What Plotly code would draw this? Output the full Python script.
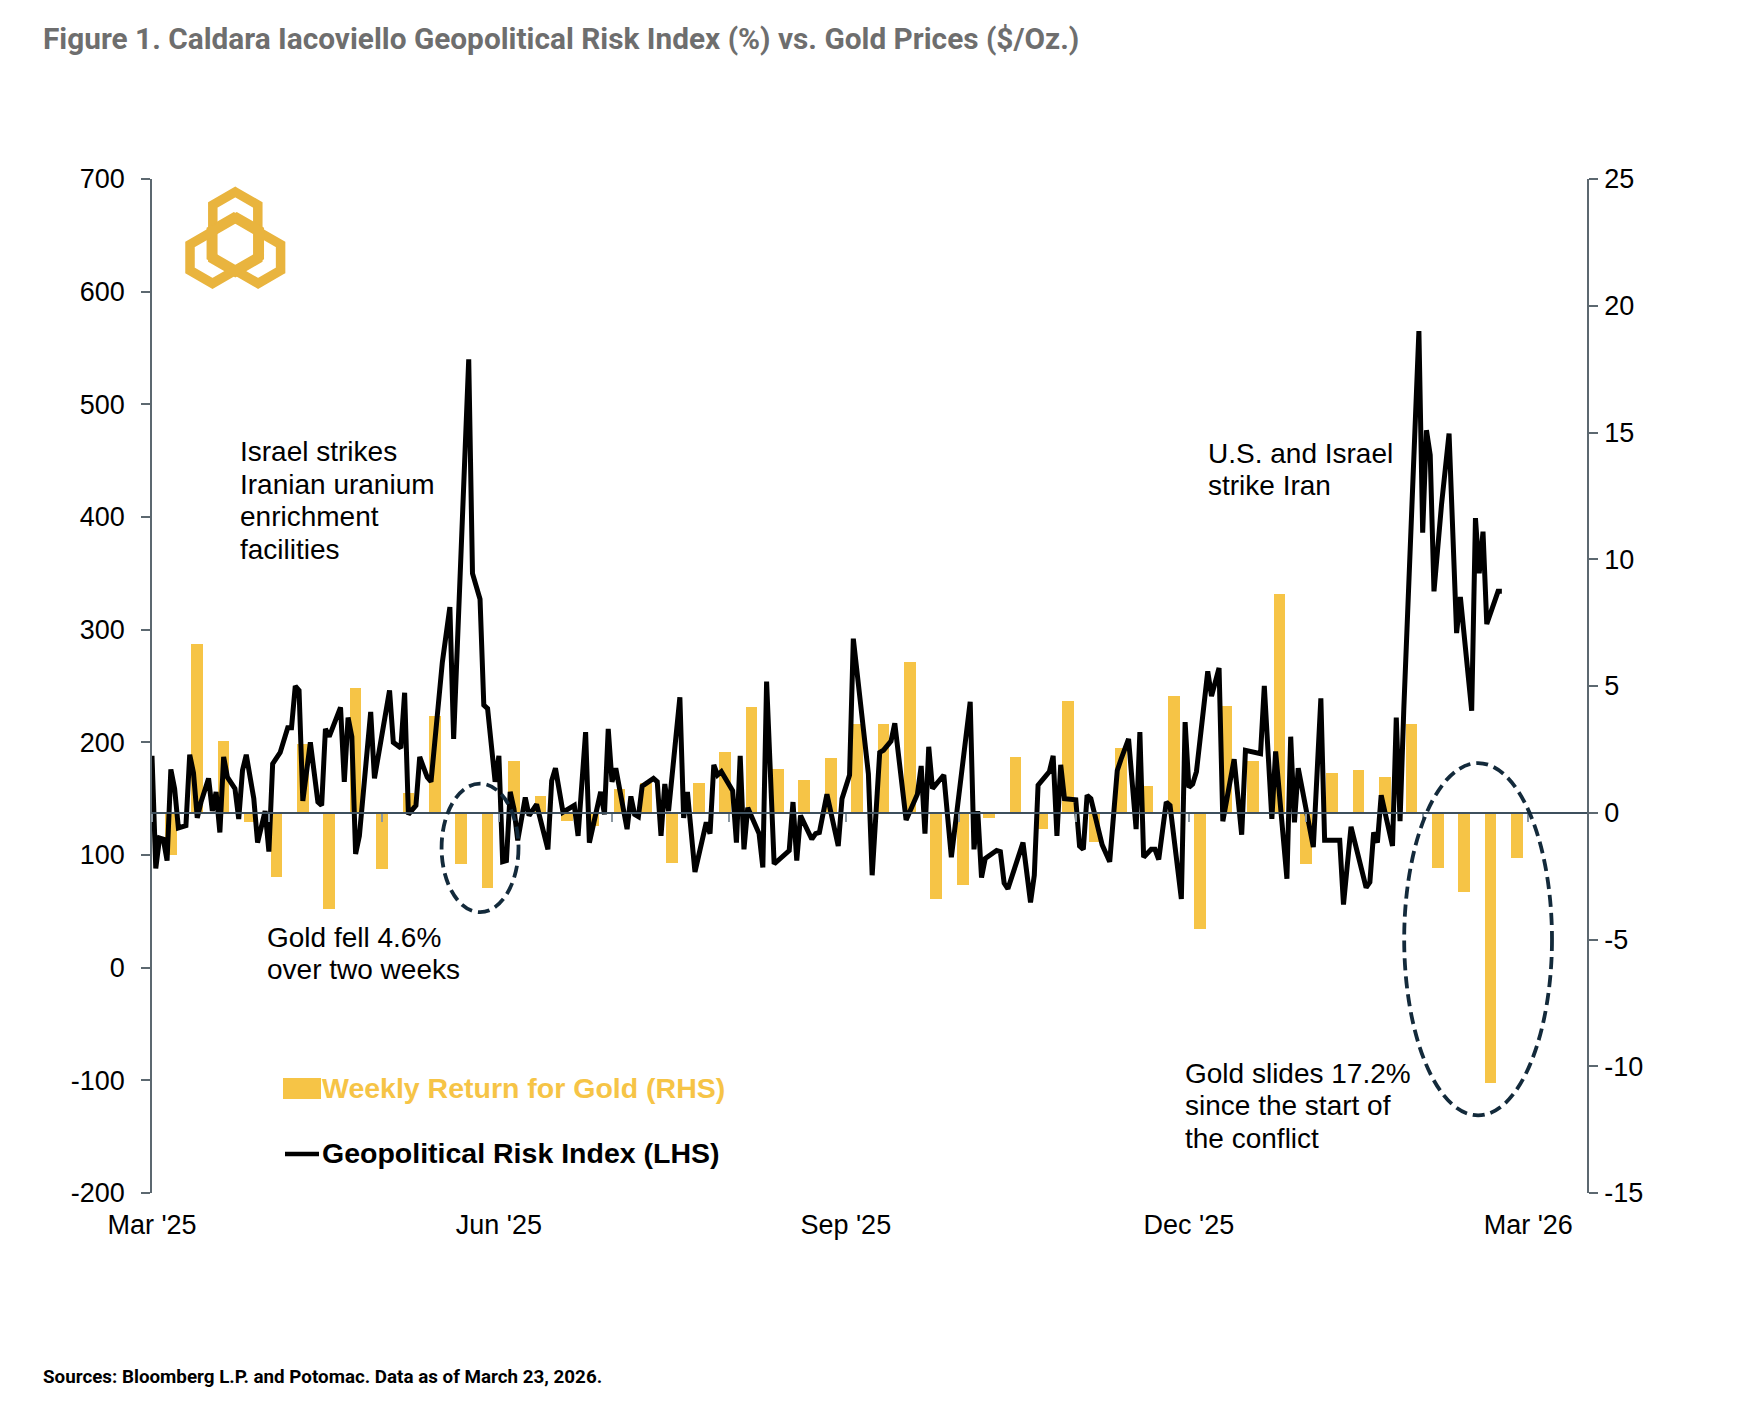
import math
import plotly.graph_objects as go
import pandas as pd

# ---------------- data ----------------
BASE = pd.Timestamp("2025-03-22")

# Caldara-Iacoviello daily geopolitical risk index (LHS), day offsets from BASE
gpr_day = [1, 2, 3, 4, 5, 6, 7, 8, 10, 11, 12, 13, 14, 16, 17, 18, 19, 20, 21, 23, 24, 25, 26, 28, 29,
           31, 32, 33, 35, 37, 38, 39, 40, 41, 43, 45, 46, 47, 48, 51, 52, 53, 54, 55, 56, 59, 60, 64, 65,
           67, 68, 69, 71, 72, 74, 75, 78, 80, 81, 85, 86, 88, 89, 90, 92, 93, 94, 95, 96, 97, 98, 100,
           101, 103, 106, 107, 108,
           110, 113, 114, 116, 117, 120, 121, 122, 123, 124, 127, 128, 129, 130, 131, 134, 135, 136, 137,
           138, 141, 142, 143, 145, 148, 149, 150, 151, 152, 155, 156, 157, 158, 159, 162, 163, 164, 166,
           169, 170, 171, 172, 173, 176, 177, 178, 180, 183, 184, 186, 187, 191, 192, 194, 195, 197, 198,
           201, 204, 205, 206, 207, 208, 211, 213,
           217, 218, 219, 220, 221, 222, 225, 226, 227, 228, 232, 234, 235, 236, 238, 239, 240, 241, 242,
           243, 246, 247, 248, 249, 250, 253, 255, 257, 258, 260, 262, 263, 264, 266, 267, 268, 270, 271,
           274, 275, 276, 277, 278, 281, 282, 284, 285, 288, 290, 291, 295, 296, 298, 299, 302, 303, 304,
           305, 309, 311, 312, 316, 317, 319, 323, 324, 325, 326, 327, 330, 331, 332, 333, 337, 338, 339,
           340, 341, 343, 345, 347, 348, 351, 352, 353, 354, 355, 358, 359]
gpr_value = [188, 88, 115, 114, 95, 176, 159, 124, 126, 189, 173, 133, 147, 168, 139, 156, 120, 187, 169,
             159, 132, 175, 189, 150, 111, 139, 103, 181, 191, 213, 213, 250, 246, 148, 200, 147, 144, 212,
             205, 231, 165, 222, 205, 101, 117, 227, 168, 246, 200, 195, 244, 136, 144, 187, 169, 165, 271,
             320, 203, 540, 350, 327, 233, 230, 165, 188, 94, 95, 156, 141, 113, 151, 135, 145, 105, 166, 177,
             138, 144, 117, 209, 111, 156, 136, 212, 165, 177, 123, 152, 136, 134, 161, 168, 165, 117, 163,
             139, 240, 133, 156, 85, 129, 119, 180, 171, 174, 157, 111, 188, 105, 142, 119, 89, 254, 92,
             102, 104, 147, 95, 135, 114, 119, 120, 154, 108, 150, 171, 292, 172, 82, 191, 193, 201, 217,
             131, 154, 179, 119, 196, 159, 171, 98,
             209, 236, 105, 139, 80, 97, 104, 103, 75, 70, 111, 58, 82, 162, 170, 174, 188, 117, 180, 150,
             149, 108, 105, 153, 150, 109, 94, 175, 185, 203, 123, 209, 98, 105, 105, 96, 147, 144, 61,
             218, 160, 163, 174, 263, 241, 266, 130, 185, 118, 193, 190, 250, 132, 192, 79, 205, 129, 177,
             107, 239, 113, 113, 56, 125, 71, 76, 120, 111, 153, 108, 222, 130, 230, 565, 386, 477, 455,
             334, 411, 474, 297, 329, 228, 399, 350, 387, 305, 334, 334]

# Weekly return for gold (RHS), %, week ending Fridays
gold_week = pd.date_range("2025-03-28", periods=52, freq="7D")
gold_return = [-1.68, 6.65, 2.85, -0.37, -2.53, 2.72, -3.80, 4.92, -2.20, 0.79, 3.81, -2.03, -2.95,
               2.06, 0.66, -0.33, -0.52, 0.92, 1.18, -1.97, 1.18, 2.40, 4.16, 1.71, 1.31, 2.17, 3.50,
               3.50, 5.95, -3.41, -2.85, -0.20, 2.19, -0.63, 4.42, -1.14, 2.56, 1.05, 4.59, -4.59, 4.20,
               2.04, 8.61, -2.03, 1.55, 1.67, 1.43, 3.49, -2.19, -3.11, -10.65, -1.77]

x_tick_dates = ["2025-03-23", "2025-06-23", "2025-09-23", "2025-12-23", "2026-03-23"]
x_tick_text = ["Mar '25", "Jun '25", "Sep '25", "Dec '25", "Mar '26"]
left_ticks = [-200, -100, 0, 100, 200, 300, 400, 500, 600, 700]
left_tick_text = ["-200", "-100", "0", "100", "200", "300", "400", "500", "600", "700"]
right_ticks = [-15, -10, -5, 0, 5, 10, 15, 20, 25]
right_tick_text = ["-15", "-10", "-5", "0", "5", "10", "15", "20", "25"]

gpr_dates = [BASE + pd.Timedelta(days=d) for d in gpr_day]

# ---------------- style ----------------
W, H = 1744, 1414
L, R, T, B = 152, 1587, 179, 1193
GOLD = "#F6C446"
LOGO = "#E9B43E"
AXIS = "#5C6870"
ZERO = "#3E505E"
NAVY = "#132A3B"
TXT = "Liberation Sans, Arial, sans-serif"


def px(x):
    return (x - L) / (R - L)


def py(y):
    return (B - y) / (B - T)


X_RANGE = ["2025-03-23", "2026-04-07 14:00"]

fig = go.Figure()
fig.add_trace(go.Bar(
    x=gold_week, y=gold_return, xaxis="x", yaxis="y",
    width=3.1 * 86400000, marker=dict(color=GOLD, line=dict(width=0)),
    name="Weekly Return for Gold (RHS)", showlegend=False))
fig.add_trace(go.Scatter(
    x=gpr_dates, y=gpr_value, xaxis="x2", yaxis="y2", mode="lines",
    line=dict(color="black", width=5), name="Geopolitical Risk Index (LHS)",
    showlegend=False))

tickfont = dict(family=TXT, size=27, color="black")

fig.update_layout(
    width=W, height=H,
    margin=dict(l=L, r=W - R, t=T, b=H - B, pad=0),
    paper_bgcolor="white", plot_bgcolor="white",
    bargap=0,
    xaxis=dict(type="date", range=X_RANGE, tickvals=x_tick_dates, ticktext=x_tick_text,
               showline=False, showgrid=False, zeroline=False, ticks="",
               tickfont=tickfont, ticklabelstandoff=13, anchor="y"),
    xaxis2=dict(type="date", range=X_RANGE, overlaying="x", anchor="free", position=0.375,
                side="bottom", showline=True, linecolor=ZERO, linewidth=1.5,
                ticks="outside", ticklen=8, tickwidth=1.5, tickcolor="#8A97A1",
                tick0="2025-03-23", dtick="M1", showticklabels=False,
                showgrid=False, zeroline=False),
    yaxis=dict(range=[-15, 25], tickvals=right_ticks, ticktext=right_tick_text, side="right",
               anchor="x", showline=True, linecolor=AXIS, linewidth=1.5, ticks="outside", ticklen=9,
               tickwidth=1.5, tickcolor=AXIS, showgrid=False, zeroline=False,
               tickfont=tickfont, ticklabelstandoff=1),
    yaxis2=dict(range=[-200, 700], tickvals=left_ticks, ticktext=left_tick_text, side="left",
                overlaying="y", anchor="x2",
                showline=True, linecolor=AXIS, linewidth=1.5, ticks="outside", ticklen=9,
                tickwidth=1.5, tickcolor=AXIS, showgrid=False, zeroline=False,
                tickfont=tickfont, ticklabelstandoff=11),
)

ann = []

# title
ann.append(dict(text="<b>Figure 1. Caldara Iacoviello Geopolitical Risk Index (%) vs. Gold Prices ($/Oz.)</b>",
                x=px(41), y=py(39), xref="paper", yref="paper", xanchor="left", yanchor="middle",
                showarrow=False, font=dict(family="Roboto, sans-serif", size=29.8, color="#6E6E6E")))
# footer
ann.append(dict(text="<b>Sources: Bloomberg L.P. and Potomac. Data as of March 23, 2026.</b>",
                x=px(41), y=py(1377), xref="paper", yref="paper", xanchor="left", yanchor="middle",
                showarrow=False, font=dict(family="Roboto, sans-serif", size=18.8, color="black")))

# text call-outs (one annotation per line to match line spacing)
callouts = [
    (238, 461.7, ["Israel strikes", "Iranian uranium", "enrichment", "facilities"]),
    (265, 947.3, ["Gold fell 4.6%", "over two weeks"]),
    (1206, 463.3, ["U.S. and Israel", "strike Iran"]),
    (1183, 1083.3, ["Gold slides 17.2%", "since the start of", "the conflict"]),
]
for x0, base0, lines in callouts:
    for i, line in enumerate(lines):
        ann.append(dict(text=line, x=px(x0), y=py(base0 + i * 32.6 - 10), xref="paper", yref="paper",
                        xanchor="left", yanchor="middle", showarrow=False,
                        font=dict(family=TXT, size=28, color="black")))

# legend
ann.append(dict(text="<b>Weekly Return for Gold (RHS)</b>", x=px(320), y=py(1088), xref="paper",
                yref="paper", xanchor="left", yanchor="middle", showarrow=False,
                font=dict(family=TXT, size=28.5, color=GOLD)))
ann.append(dict(text="<b>Geopolitical Risk Index (LHS)</b>", x=px(320), y=py(1153), xref="paper",
                yref="paper", xanchor="left", yanchor="middle", showarrow=False,
                font=dict(family=TXT, size=28.5, color="black")))

shapes = []
shapes.append(dict(type="rect", xref="paper", yref="paper", x0=px(283), x1=px(321), y0=py(1099),
                   y1=py(1078), fillcolor=GOLD, line=dict(width=0)))
shapes.append(dict(type="line", xref="paper", yref="paper", x0=px(285), x1=px(319), y0=py(1154),
                   y1=py(1154), line=dict(color="black", width=4.5)))


# dashed ellipses (data coords: x dates, y right axis %)
def d(n):
    return BASE + pd.Timedelta(days=n)


for x0, x1, y0, y1 in [(77.8, 98.2, -3.92, 1.15), (333.1, 372.3, -11.94, 1.96)]:
    shapes.append(dict(type="circle", xref="x", yref="y", x0=d(x0), x1=d(x1), y0=y0, y1=y1,
                       line=dict(color=NAVY, width=3.8, dash="12px,6px"), layer="above"))

# logo: three interlocking elongated hexagonal rings, rotated 120 degrees apart
LOGO_C = (235.3, 244.3)
RING = [(0, -40), (22.5, -27), (22.5, 27), (0, 40), (-22.5, 27), (-22.5, -27)]
for ang in (0, 120, -120):
    a = math.radians(ang)
    ca, sa = math.cos(a), math.sin(a)
    ox, oy = 0.0, -12.3
    cx = LOGO_C[0] + ox * ca - oy * sa
    cy = LOGO_C[1] + ox * sa + oy * ca
    pts = [(cx + x * ca - y * sa, cy + x * sa + y * ca) for x, y in RING]
    path = "M " + " L ".join(f"{px(u):.5f},{py(v):.5f}" for u, v in pts) + " Z"
    shapes.append(dict(type="path", xref="paper", yref="paper", path=path,
                       line=dict(color=LOGO, width=9.5), fillcolor="rgba(0,0,0,0)"))

fig.update_layout(annotations=ann, shapes=shapes)
fig.write_html("out.html")
